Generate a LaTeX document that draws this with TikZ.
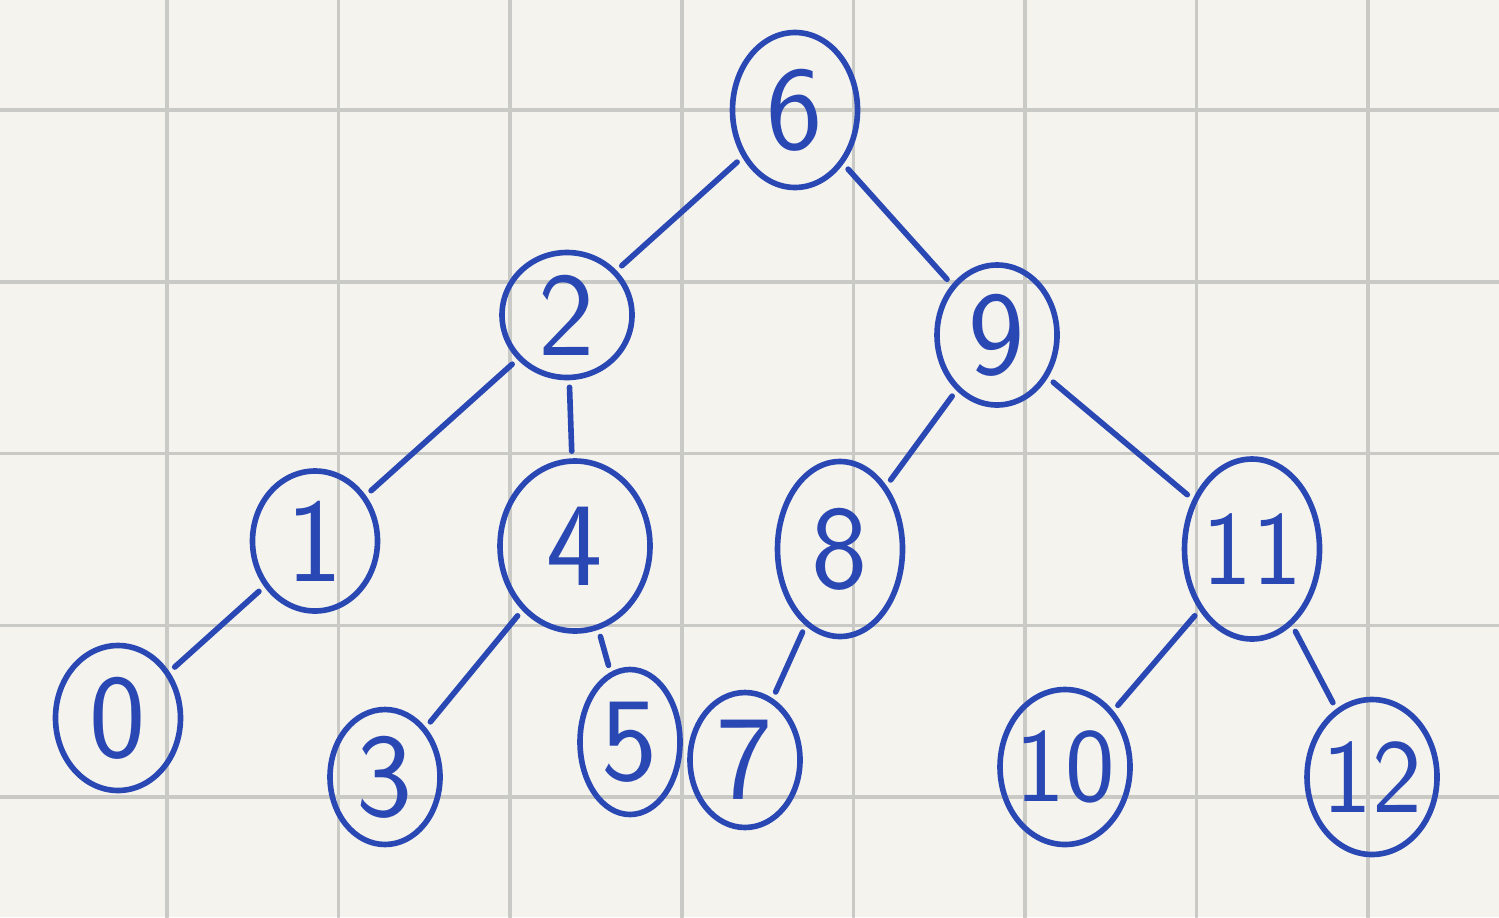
\documentclass[tikz,border=0pt]{standalone}
\usepackage{tikz}
\usetikzlibrary{shapes.geometric}
\definecolor{inkblue}{HTML}{2A48B4}
\definecolor{paper}{HTML}{F4F3EE}
\definecolor{gridgray}{HTML}{C9C9C6}
\tikzset{
  key/.style={ellipse,draw=inkblue,line width=1.6pt,text=inkblue,
    minimum width=1.25cm,minimum height=1.45cm,inner sep=0pt,
    font=\sffamily\fontsize{34}{38}\selectfont},
  widekey/.style={key,inner xsep=-5pt,font=\sffamily\fontsize{30}{34}\selectfont},
  link/.style={inkblue,line width=1.6pt,line cap=round,shorten <=2pt,shorten >=2pt}
}
\begin{document}
\begin{tikzpicture}[line cap=round,line join=round,x=1cm,y=1cm]
\useasboundingbox (0,0) rectangle (14.99,9.17);
\fill[paper] (0,0) rectangle (14.99,9.17);
% grid paper
\foreach \i in {0,...,7}
  \draw[gridgray,line width=1pt] ({1.67+1.716*\i},0) -- ({1.67+1.716*\i},9.17);
\foreach \j in {0,...,4}
  \draw[gridgray,line width=1pt] (0,{1.20+1.717*\j}) -- (14.99,{1.20+1.717*\j});
% keys
\node[key,minimum height=1.55cm] (k6) at (7.95,8.07) {6};
\node[key,minimum height=1.25cm,minimum width=1.3cm] (k2) at (5.67,6.02) {2};
\node[key,minimum width=1.2cm,minimum height=1.4cm] (k9) at (9.97,5.82) {9};
\node[key,minimum height=1.4cm] (k1) at (3.15,3.76) {1};
\node[key,minimum width=1.5cm,minimum height=1.7cm] (k4) at (5.75,3.71) {4};
\node[key,minimum height=1.75cm] (k8) at (8.40,3.68) {8};
\node[widekey,minimum width=1.35cm,minimum height=1.8cm] (k11) at (12.52,3.68) {11};
\node[key] (k0) at (1.18,1.99) {0};
\node[key,minimum width=1.1cm,minimum height=1.35cm] (k3) at (3.85,1.40) {3};
\node[key,minimum width=1.0cm] (k5) at (6.30,1.75) {5};
\node[key,minimum width=1.1cm,minimum height=1.35cm] (k7) at (7.45,1.57) {7};
\node[widekey,minimum width=1.3cm,minimum height=1.55cm] (k10) at (10.65,1.50) {10};
\node[widekey,minimum width=1.3cm,minimum height=1.55cm] (k12) at (13.72,1.40) {12};
% links
\draw[link] (k6) -- (k2);
\draw[link] (k6) -- (k9);
\draw[link] (k2) -- (k1);
\draw[link] (k2) -- (k4);
\draw[link] (k9) -- (k8);
\draw[link] (k9) -- (k11);
\draw[link] (k1) -- (k0);
\draw[link] (k4) -- (k3);
\draw[link] (k4) -- (k5);
\draw[link] (k8) -- (k7);
\draw[link] (k11) -- (k10);
\draw[link] (k11) -- (k12);
\end{tikzpicture}
\end{document}
